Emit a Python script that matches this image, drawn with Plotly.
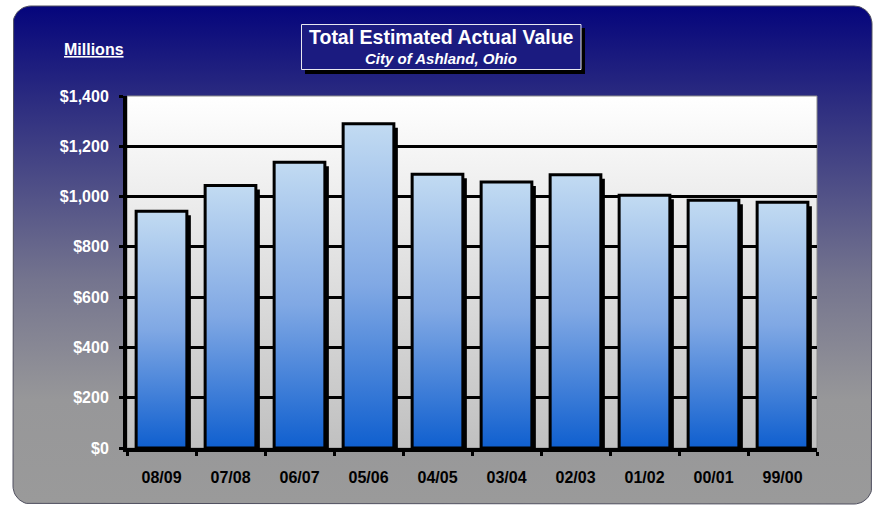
import math
import plotly.graph_objects as go

# ---- data (millions of dollars) ----
periods = ["08/09", "07/08", "06/07", "05/06", "04/05", "03/04", "02/03", "01/02", "00/01", "99/00"]
values = [942, 1044, 1137, 1290, 1089, 1058, 1087, 1005, 985, 977]
y_ticks = [0, 200, 400, 600, 800, 1000, 1200, 1400]
y_tick_labels = [f"${v:,}" for v in y_ticks]

W, H = 873, 506
FONT = "Arial, Liberation Sans, sans-serif"

# plot area in pixels
PX0, PX1 = 127, 817
PY0, PY1 = 96, 448


def fy(py):
    """pixel row -> background-axis y value"""
    return H - py


def rounded_rect(x0, y0, x1, y1, r, n=12):
    xs, ys = [], []
    corners = [
        (x1 - r, y0 + r, -90, 0),
        (x1 - r, y1 - r, 0, 90),
        (x0 + r, y1 - r, 90, 180),
        (x0 + r, y0 + r, 180, 270),
    ]
    for cx, cy, a0, a1 in corners:
        for k in range(n + 1):
            a = math.radians(a0 + (a1 - a0) * k / n)
            xs.append(cx + r * math.cos(a))
            ys.append(fy(cy + r * math.sin(a)))
    xs.append(xs[0])
    ys.append(ys[0])
    return xs, ys


fig = go.Figure()

# ---- background panel (navy to grey) ----
bx, by = rounded_rect(13, 6, 872, 504, 18)
fig.add_trace(go.Scatter(
    x=bx, y=by, mode="lines", fill="toself",
    line=dict(color="#505060", width=1),
    fillgradient=dict(type="vertical", colorscale=[
        [0.0, "#9a9a9a"], [0.21, "#979799"], [0.45, "#74748e"],
        [0.81, "#2c2c80"], [1.0, "#05057c"]]),
    hoverinfo="skip", showlegend=False, xaxis="x", yaxis="y"))

# ---- plot area (white to light grey) ----
fig.add_trace(go.Scatter(
    x=[PX0, PX1, PX1, PX0, PX0],
    y=[fy(PY1), fy(PY1), fy(PY0), fy(PY0), fy(PY1)],
    mode="lines", fill="toself",
    line=dict(color="#8a8a8a", width=1),
    fillgradient=dict(type="vertical", colorscale=[[0, "#c0c0c0"], [1, "#ffffff"]]),
    hoverinfo="skip", showlegend=False, xaxis="x", yaxis="y"))

# ---- bars ----
bw = 0.735
dx = 4 / ((PX1 - PX0) / len(periods))
dy = 4 * 1400 / (PY1 - PY0)

# drop shadow
fig.add_trace(go.Bar(
    x=list(range(len(periods))), y=[v - dy for v in values],
    width=bw, offset=-bw / 2 + dx, marker=dict(color="black", line=dict(width=0)),
    hoverinfo="skip", showlegend=False, xaxis="x2", yaxis="y2"))

# gradient-filled bars with black outline
for i, (p, v) in enumerate(zip(periods, values)):
    fig.add_trace(go.Scatter(
        x=[i - bw / 2, i + bw / 2, i + bw / 2, i - bw / 2, i - bw / 2],
        y=[0, 0, v, v, 0],
        mode="lines", fill="toself",
        line=dict(color="black", width=3),
        fillgradient=dict(type="vertical", colorscale=[[0, "#0f5fcf"], [0.5, "#80a8e4"], [1, "#c2dbf2"]]),
        name=p, hovertemplate=f"{p}: $%{{y:,}}M<extra></extra>", showlegend=False,
        xaxis="x2", yaxis="y2"))

# ---- title box ----
shapes = [
    dict(type="rect", xref="x", yref="y", x0=305, x1=585, y0=fy(28), y1=fy(74),
         fillcolor="black", line=dict(width=0), layer="above"),
    dict(type="rect", xref="x", yref="y", x0=301.5, x1=581, y0=fy(24.5), y1=fy(69.5),
         fillcolor="#1b1b80", line=dict(color="#e8e8f0", width=1), layer="above"),
]

annotations = [
    dict(text="<b>Total Estimated Actual Value</b>", x=441, y=fy(37), xref="x", yref="y",
         showarrow=False, xanchor="center", yanchor="middle",
         font=dict(family=FONT, size=19.5, color="white")),
    dict(text="<b><i>City of Ashland, Ohio</i></b>", x=441, y=fy(58), xref="x", yref="y",
         showarrow=False, xanchor="center", yanchor="middle",
         font=dict(family=FONT, size=15, color="white")),
    dict(text="<b>Millions</b>", x=94, y=fy(49), xref="x", yref="y",
         showarrow=False, xanchor="center", yanchor="middle",
         font=dict(family=FONT, size=16, color="white", lineposition="under")),
]

fig.update_layout(
    width=W, height=H,
    margin=dict(l=0, r=0, t=0, b=0, autoexpand=False),
    paper_bgcolor="white", plot_bgcolor="rgba(0,0,0,0)",
    barmode="overlay",
    shapes=shapes, annotations=annotations,
    xaxis=dict(domain=[0, 1], range=[0, W], visible=False, fixedrange=True, automargin=False),
    yaxis=dict(domain=[0, 1], range=[0, H], visible=False, fixedrange=True, automargin=False),
    xaxis2=dict(
        domain=[PX0 / W, PX1 / W], anchor="y2", range=[-0.5, len(periods) - 0.5],
        tickmode="array", tickvals=list(range(len(periods))), ticktext=periods,
        ticks="", showgrid=False, zeroline=False, automargin=False,
        showline=True, linecolor="black", linewidth=4,
        tickfont=dict(family=FONT, size=16, color="black", weight="bold"),
        ticklabelstandoff=12,
        minor=dict(tickmode="linear", tick0=-0.5, dtick=1, ticks="outside",
                   ticklen=4, tickwidth=3, tickcolor="black", showgrid=False),
    ),
    yaxis2=dict(
        domain=[(H - PY1) / H, (H - PY0) / H], anchor="x2", range=[0, 1400],
        tickmode="array", tickvals=y_ticks, ticktext=y_tick_labels,
        ticks="outside", ticklen=4, tickwidth=3, tickcolor="black",
        showgrid=True, gridcolor="black", gridwidth=3, zeroline=False, automargin=False,
        showline=True, linecolor="black", linewidth=4,
        tickfont=dict(family=FONT, size=16, color="white", weight="bold"),
        ticklabelstandoff=7,
    ),
)

fig.write_html("out.html")
